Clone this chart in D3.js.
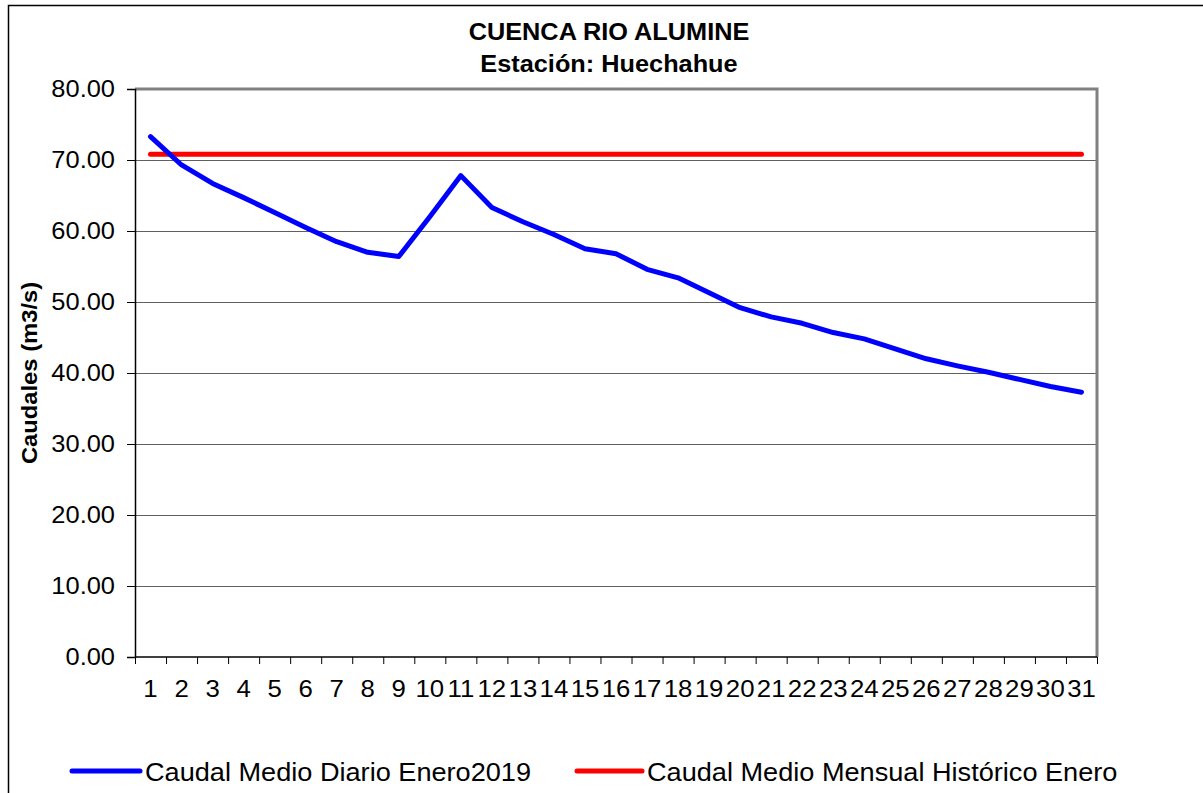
<!DOCTYPE html>
<html><head><meta charset="utf-8">
<script src="https://cdn.jsdelivr.net/npm/d3@7"></script>
<style>
html,body{margin:0;padding:0;background:#fff;}
svg{display:block;font-family:"Liberation Sans",Arial,sans-serif;}
</style></head>
<body>
<svg id="chart" width="1203" height="793"></svg>
<script>
const days = d3.range(1, 32).map(String);
const dailyFlow = [73.3, 69.3, 66.7, 64.7, 62.6, 60.5, 58.5, 57.0, 56.4, 62.0, 67.8,
  63.3, 61.3, 59.5, 57.5, 56.8, 54.6, 53.4, 51.3, 49.2, 47.9, 47.0, 45.7, 44.8,
  43.4, 42.0, 41.0, 40.1, 39.1, 38.1, 37.3];
const historicMean = days.map(() => 70.8);
const yTicks = [0, 10, 20, 30, 40, 50, 60, 70, 80];
const titleLines = ["CUENCA RIO ALUMINE", "Estación: Huechahue"];
const yLabel = "Caudales (m3/s)";
const seriesNames = ["Caudal Medio Diario Enero2019", "Caudal Medio Mensual Histórico Enero"];
const seriesColors = ["#0000ff", "#ff0000"];

const svg = d3.select("#chart");
const L = 135, R = 1097, T = 89, B = 657;
const STRETCH = 1.12;
function widen(sel, k) {
  sel.each(function() {
    const w = this.getComputedTextLength();
    d3.select(this).attr("textLength", w * k).attr("lengthAdjust", "spacingAndGlyphs");
  });
}

// outer chart border
svg.append("rect").attr("x", 8.5).attr("y", 5.5).attr("width", 1200).attr("height", 800)
  .attr("fill", "#fff").attr("stroke", "#000").attr("stroke-width", 1.5);

const x = d3.scaleBand().domain(days).range([L, R]);
const y = d3.scaleLinear().domain([0, 80]).range([B, T]);

// gridlines
svg.append("g").selectAll("line").data(yTicks.filter(v => v > 0 && v < 80)).join("line")
  .attr("x1", L).attr("x2", R).attr("y1", d => y(d) + 0.5).attr("y2", d => y(d) + 0.5)
  .attr("stroke", "#606060").attr("stroke-width", 1);

// plot frame top/right (gray)
svg.append("path")
  .attr("d", `M${L},${T}H${R}V${B}`)
  .attr("fill", "none").attr("stroke", "#808080").attr("stroke-width", 3);

// y axis
const yAxis = svg.append("g").attr("transform", `translate(${L},0)`)
  .call(d3.axisLeft(y).tickValues(yTicks).tickFormat(d3.format(".2f")).tickSize(8).tickPadding(12));
yAxis.select(".domain").attr("stroke", "#000").attr("stroke-width", 1.5);
yAxis.selectAll(".tick line").attr("stroke", "#000");
yAxis.selectAll("text").attr("font-size", 24).attr("fill", "#000")
  .attr("font-family", "Liberation Sans, Arial, sans-serif");
widen(yAxis.selectAll("text"), 1.06);

// x axis (labels centered in bands, ticks at band edges)
const xAxis = svg.append("g").attr("transform", `translate(0,${B})`)
  .call(d3.axisBottom(x).tickSize(0).tickPadding(24));
xAxis.select(".domain").attr("stroke", "#000").attr("stroke-width", 1.5).attr("d", `M${L},0H${R}`);
xAxis.selectAll("text").attr("font-size", 23).attr("fill", "#000")
  .attr("font-family", "Liberation Sans, Arial, sans-serif");
widen(xAxis.selectAll("text"), STRETCH);
const edges = days.map(d => x(d)).concat([x.range()[1]]);
svg.append("g").selectAll("line").data(edges).join("line")
  .attr("x1", d => d + 0.5).attr("x2", d => d + 0.5).attr("y1", B).attr("y2", B + 7)
  .attr("stroke", "#000").attr("stroke-width", 1);

// lines
const line = d3.line().x((d, i) => x(days[i]) + x.bandwidth() / 2).y(d => y(d));
svg.append("path").datum(historicMean).attr("d", line)
  .attr("fill", "none").attr("stroke", seriesColors[1]).attr("stroke-width", 5)
  .attr("stroke-linecap", "round").attr("stroke-linejoin", "round");
svg.append("path").datum(dailyFlow).attr("d", line)
  .attr("fill", "none").attr("stroke", seriesColors[0]).attr("stroke-width", 5)
  .attr("stroke-linecap", "round").attr("stroke-linejoin", "round");

// title
const tt = svg.append("g").selectAll("text").data(titleLines).join("text")
  .attr("x", 609).attr("y", (d, i) => 40 + i * 32)
  .attr("text-anchor", "middle").attr("font-size", 23).attr("font-weight", "bold")
  .attr("fill", "#000").text(d => d);
widen(tt, 1.1);

// y label
const yl = svg.append("text").attr("transform", `translate(37,${(T + B) / 2}) rotate(-90)`)
  .attr("text-anchor", "middle").attr("font-size", 22).attr("font-weight", "bold")
  .attr("fill", "#000").text(yLabel);
widen(yl, 1.08);

// legend
const legendItems = [
  {name: seriesNames[0], color: seriesColors[0], x1: 72, x2: 140},
  {name: seriesNames[1], color: seriesColors[1], x1: 577, x2: 642}
];
const lg = svg.append("g").selectAll("g").data(legendItems).join("g");
lg.append("line").attr("x1", d => d.x1).attr("x2", d => d.x2).attr("y1", 771).attr("y2", 771)
  .attr("stroke", d => d.color).attr("stroke-width", 5).attr("stroke-linecap", "round");
const lt = lg.append("text").attr("x", d => d.x2 + 5).attr("y", 781).attr("font-size", 25)
  .attr("fill", "#000").text(d => d.name);
widen(lt, 1.085);
</script>
</body></html>
